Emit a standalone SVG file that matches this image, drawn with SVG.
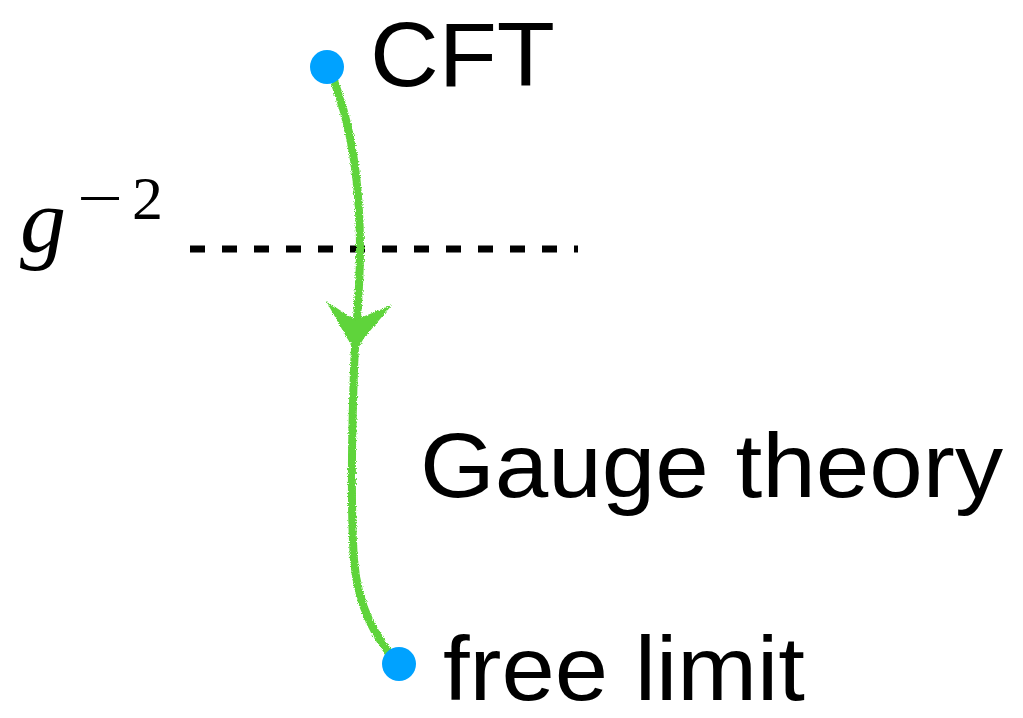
<svg xmlns="http://www.w3.org/2000/svg" width="1023" height="718" viewBox="0 0 1023 718">
  <style>
    .lbl { font-family: "Liberation Sans", Arial, sans-serif; font-size: 90px; fill: #000; }
    .math { font-family: "Liberation Serif", "Times New Roman", serif; fill: #000; }
    .flow { fill: none; stroke: #5ED43A; stroke-width: 8; stroke-linecap: round; }
    .dot { fill: #00A2FF; }
  </style>
  <defs>
    <filter id="chalk" x="-20%" y="-5%" width="140%" height="110%">
      <feTurbulence type="fractalNoise" baseFrequency="0.9" numOctaves="2" seed="3" result="n"/>
      <feDisplacementMap in="SourceGraphic" in2="n" scale="4" xChannelSelector="R" yChannelSelector="G"/>
    </filter>
  </defs>

  <!-- coupling threshold -->
  <g id="threshold">
    <line x1="190" y1="249" x2="578" y2="249" stroke="#000" stroke-width="7" stroke-dasharray="15 17"/>
    <text class="math" x="20" y="252" font-size="92" font-style="italic">g</text>
    <text class="math" x="77" y="219" font-size="62"><tspan textLength="46" lengthAdjust="spacingAndGlyphs">−</tspan><tspan x="132">2</tspan></text>
  </g>

  <!-- RG flow -->
  <g id="connectors" filter="url(#chalk)">
    <path class="flow" d="M333 78 C345 110 360 160 360 250 C360 300 355 330 354 370 C352 430 350 500 354 560 C358 610 378 640 395 660"/>
    <polygon fill="#5ED43A" points="326,301 355,320 392,305 364,338 356,352 347,338"/>
  </g>

  <g id="cft">
    <circle class="dot" cx="327" cy="67" r="17"/>
    <text class="lbl" x="370" y="86" textLength="185" lengthAdjust="spacingAndGlyphs">CFT</text>
  </g>

  <g id="gauge">
    <text class="lbl" x="420" y="497" textLength="583" lengthAdjust="spacingAndGlyphs">Gauge theory</text>
  </g>

  <g id="free">
    <circle class="dot" cx="399" cy="664" r="17"/>
    <text class="lbl" x="443" y="700" textLength="362" lengthAdjust="spacingAndGlyphs">free limit</text>
  </g>
</svg>
